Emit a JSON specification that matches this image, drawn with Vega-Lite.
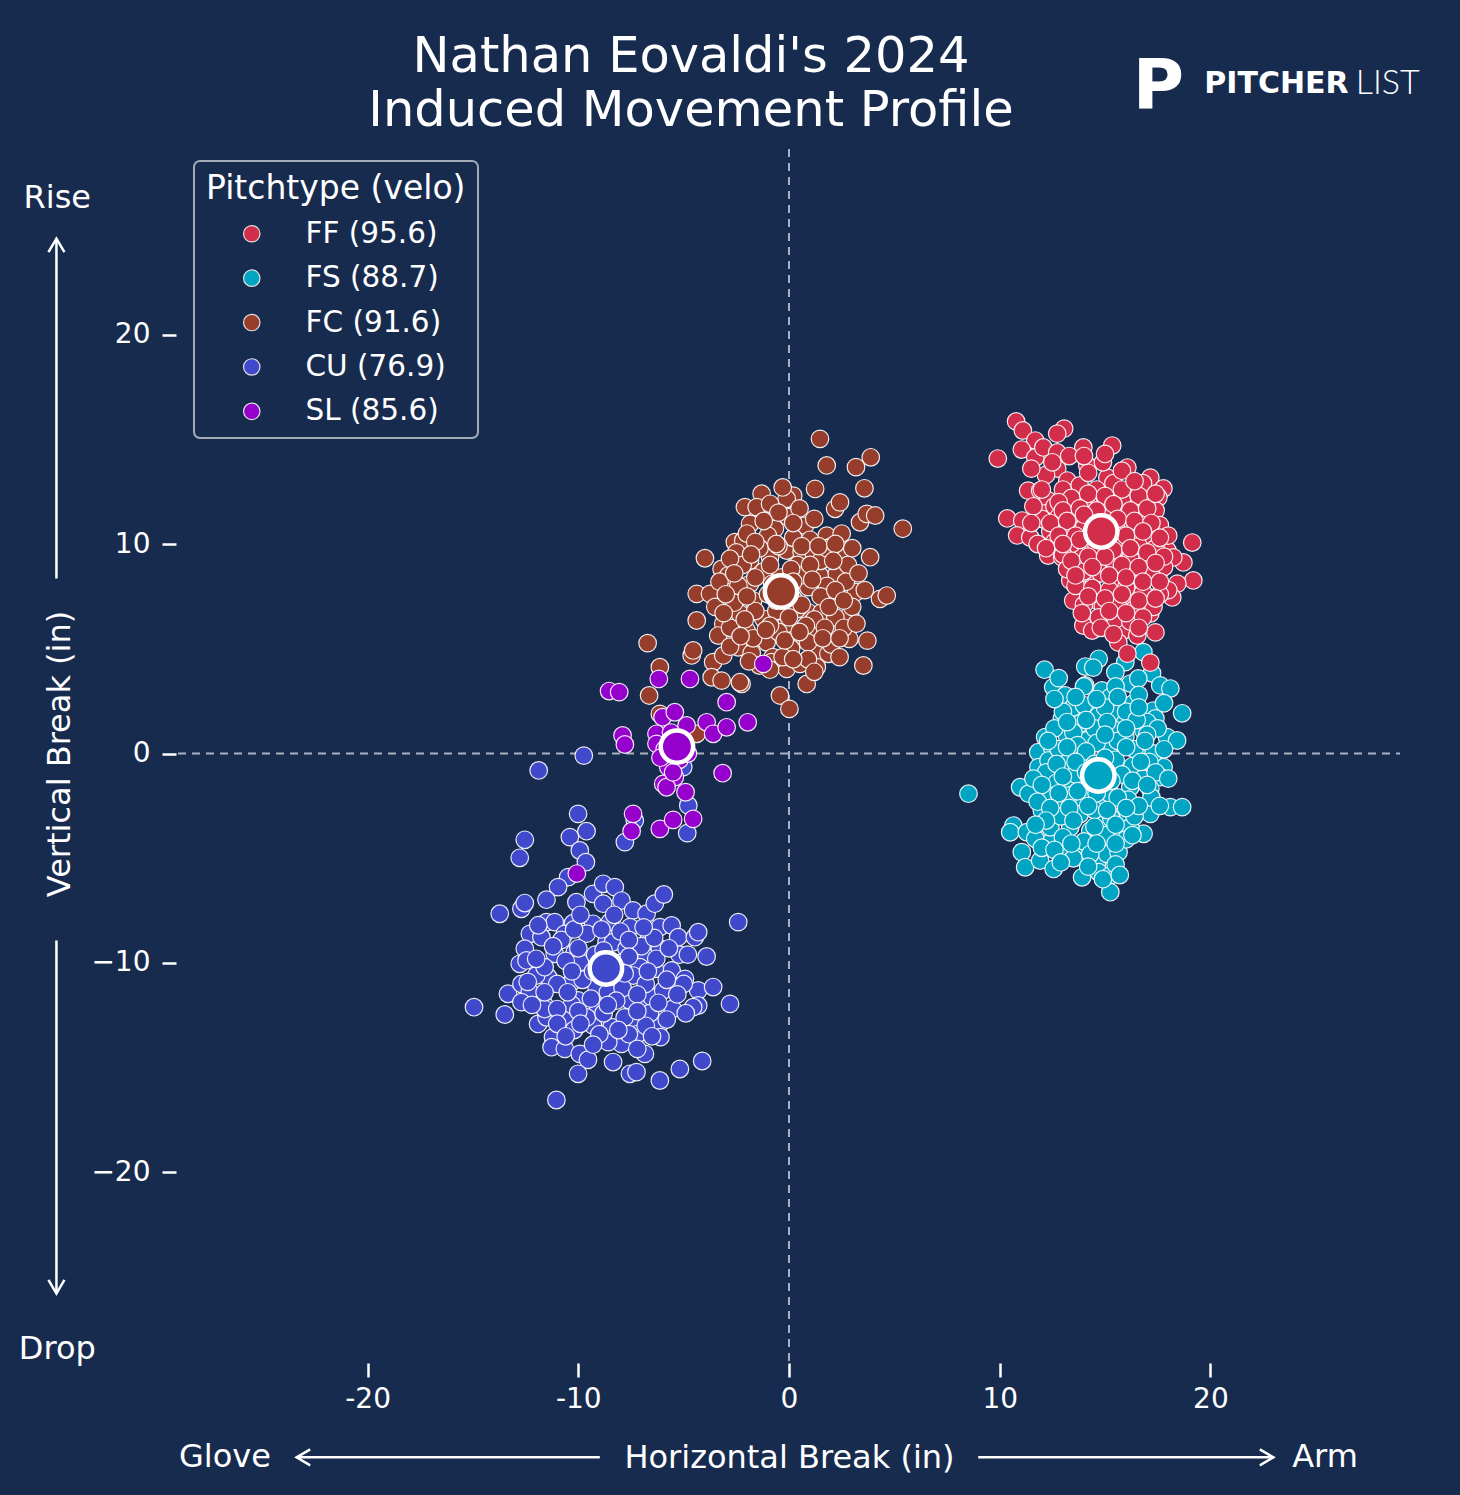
{
"$schema": "https://vega.github.io/schema/vega-lite/v6.json",
"width": 1222,
"height": 1215,
"autosize": {"type": "none"},
"padding": {"left": 178, "top": 146, "right": 60, "bottom": 134},
"background": "#172b4f",
"title": {"text": ["Nathan Eovaldi's 2024", "Induced Movement Profile"], "frame": "group", "fontSize": 49.5, "font": "DejaVu Sans", "fontWeight": "normal", "color": "white", "anchor": "middle", "dx": -98, "offset": -83, "lineHeight": 54},
"config": {"view": {"stroke": null}, "font": "DejaVu Sans", "legend": {"strokeWidth": 2}},
"datasets": {
"pitches": [
{"t":"FC","x":1.47,"y":15.02},{"t":"FC","x":1.79,"y":13.75},{"t":"FC","x":3.18,"y":13.67},{"t":"FC","x":3.88,"y":14.14},{"t":"FC","x":1.24,"y":12.63},{"t":"FC","x":3.58,"y":12.66},{"t":"FC","x":2.19,"y":11.68},{"t":"FC","x":2.42,"y":11.99},{"t":"FC","x":3.37,"y":11.04},{"t":"FC","x":3.69,"y":11.44},{"t":"FC","x":4.09,"y":11.36},{"t":"FC","x":5.40,"y":10.73},{"t":"FC","x":-1.30,"y":12.40},{"t":"FC","x":0.20,"y":12.31},{"t":"FC","x":-0.11,"y":12.16},{"t":"FC","x":-2.09,"y":11.76},{"t":"FC","x":-1.53,"y":11.76},{"t":"FC","x":-0.90,"y":11.92},{"t":"FC","x":-1.85,"y":10.96},{"t":"FC","x":-0.67,"y":10.73},{"t":"FC","x":-0.03,"y":11.28},{"t":"FC","x":0.76,"y":10.88},{"t":"FC","x":1.79,"y":10.40},{"t":"FC","x":1.95,"y":9.85},{"t":"FC","x":2.50,"y":9.53},{"t":"FC","x":3.85,"y":9.37},{"t":"FC","x":-2.57,"y":10.09},{"t":"FC","x":-2.17,"y":10.17},{"t":"FC","x":-3.99,"y":9.32},{"t":"FC","x":-3.20,"y":8.81},{"t":"FC","x":-2.88,"y":8.50},{"t":"FC","x":-1.85,"y":9.21},{"t":"FC","x":-0.90,"y":9.37},{"t":"FC","x":-0.11,"y":9.69},{"t":"FC","x":0.60,"y":9.61},{"t":"FC","x":1.16,"y":9.61},{"t":"FC","x":1.47,"y":8.50},{"t":"FC","x":2.27,"y":8.58},{"t":"FC","x":-4.38,"y":7.62},{"t":"FC","x":-3.75,"y":7.62},{"t":"FC","x":-2.80,"y":7.70},{"t":"FC","x":-1.85,"y":8.10},{"t":"FC","x":-1.70,"y":7.30},{"t":"FC","x":0.92,"y":7.94},{"t":"FC","x":2.34,"y":7.46},{"t":"FC","x":3.18,"y":7.70},{"t":"FC","x":4.32,"y":7.38},{"t":"FC","x":4.64,"y":7.54},{"t":"FC","x":-4.38,"y":6.35},{"t":"FC","x":-3.12,"y":6.19},{"t":"FC","x":-2.33,"y":6.67},{"t":"FC","x":-2.01,"y":5.87},{"t":"FC","x":-1.22,"y":6.43},{"t":"FC","x":-0.11,"y":6.19},{"t":"FC","x":0.92,"y":6.74},{"t":"FC","x":1.55,"y":6.74},{"t":"FC","x":2.27,"y":5.95},{"t":"FC","x":2.90,"y":6.67},{"t":"FC","x":2.86,"y":5.47},{"t":"FC","x":3.72,"y":5.39},{"t":"FC","x":-3.36,"y":5.63},{"t":"FC","x":-2.41,"y":5.07},{"t":"FC","x":-1.77,"y":4.79},{"t":"FC","x":-1.06,"y":5.31},{"t":"FC","x":0.52,"y":5.47},{"t":"FC","x":1.24,"y":5.95},{"t":"FC","x":1.32,"y":4.76},{"t":"FC","x":1.87,"y":4.76},{"t":"FC","x":3.53,"y":4.20},{"t":"FC","x":-4.62,"y":4.68},{"t":"FC","x":-4.55,"y":4.92},{"t":"FC","x":-6.71,"y":5.27},{"t":"FC","x":-6.13,"y":4.12},{"t":"FC","x":-3.60,"y":4.36},{"t":"FC","x":-3.12,"y":4.68},{"t":"FC","x":-3.67,"y":3.64},{"t":"FC","x":-3.20,"y":3.48},{"t":"FC","x":-2.25,"y":3.32},{"t":"FC","x":-6.64,"y":2.77},{"t":"FC","x":-0.77,"y":4.60},{"t":"FC","x":-0.11,"y":4.04},{"t":"FC","x":0.52,"y":4.28},{"t":"FC","x":1.32,"y":4.12},{"t":"FC","x":0.84,"y":3.32},{"t":"FC","x":-0.43,"y":2.77},{"t":"FC","x":0.02,"y":2.13},{"t":"FC","x":-0.82,"y":4.36},{"t":"FC","x":-6.13,"y":1.89},{"t":"FC","x":-4.38,"y":0.94},{"t":"FC","x":-2.33,"y":3.40},
{"t":"FC","x":-2.0,"y":10.5},{"t":"FC","x":-1.0,"y":10.4},{"t":"FC","x":0.2,"y":10.3},{"t":"FC","x":1.0,"y":10.2},{"t":"FC","x":-2.5,"y":9.6},{"t":"FC","x":-1.4,"y":9.8},{"t":"FC","x":-0.5,"y":9.9},{"t":"FC","x":0.4,"y":9.0},{"t":"FC","x":1.5,"y":9.2},{"t":"FC","x":2.8,"y":9.0},{"t":"FC","x":-2.2,"y":9.0},{"t":"FC","x":-1.2,"y":8.7},{"t":"FC","x":-0.4,"y":8.4},{"t":"FC","x":0.6,"y":8.5},{"t":"FC","x":1.8,"y":8.0},{"t":"FC","x":2.7,"y":8.2},{"t":"FC","x":-3.3,"y":8.2},{"t":"FC","x":-2.4,"y":8.0},{"t":"FC","x":-1.0,"y":7.6},{"t":"FC","x":0.2,"y":7.4},{"t":"FC","x":1.5,"y":7.5},{"t":"FC","x":3.0,"y":7.0},{"t":"FC","x":-3.5,"y":7.0},{"t":"FC","x":-2.6,"y":7.2},{"t":"FC","x":-1.6,"y":6.8},{"t":"FC","x":-0.6,"y":6.8},{"t":"FC","x":0.4,"y":6.9},{"t":"FC","x":1.2,"y":6.4},{"t":"FC","x":2.2,"y":6.5},{"t":"FC","x":-2.8,"y":6.0},{"t":"FC","x":-1.7,"y":5.5},{"t":"FC","x":-0.5,"y":5.8},{"t":"FC","x":0.1,"y":5.0},{"t":"FC","x":0.9,"y":5.3},{"t":"FC","x":2.0,"y":5.2},{"t":"FC","x":-2.8,"y":5.1},{"t":"FC","x":-0.3,"y":4.6},{"t":"FC","x":0.9,"y":4.5},{"t":"FC","x":-1.4,"y":4.2},{"t":"FC","x":1.8,"y":9.8},{"t":"FC","x":0.5,"y":11.7},{"t":"FC","x":-0.5,"y":11.5},{"t":"FC","x":2.5,"y":10.5},{"t":"FC","x":3.0,"y":9.8},
{"t":"FC","x":-1.6,"y":10.1},{"t":"FC","x":-0.6,"y":10.0},{"t":"FC","x":0.6,"y":9.9},{"t":"FC","x":1.4,"y":9.9},{"t":"FC","x":2.2,"y":10.0},{"t":"FC","x":-2.8,"y":9.3},{"t":"FC","x":-1.8,"y":9.5},{"t":"FC","x":-0.9,"y":9.0},{"t":"FC","x":0.1,"y":8.8},{"t":"FC","x":1.0,"y":9.0},{"t":"FC","x":2.1,"y":9.2},{"t":"FC","x":3.3,"y":8.6},{"t":"FC","x":-2.6,"y":8.6},{"t":"FC","x":-1.6,"y":8.4},{"t":"FC","x":-0.8,"y":8.1},{"t":"FC","x":0.2,"y":8.2},{"t":"FC","x":1.1,"y":8.3},{"t":"FC","x":2.2,"y":7.8},{"t":"FC","x":3.6,"y":7.8},{"t":"FC","x":-3.0,"y":7.6},{"t":"FC","x":-2.0,"y":7.5},{"t":"FC","x":-0.6,"y":7.3},{"t":"FC","x":0.6,"y":7.1},{"t":"FC","x":1.9,"y":7.0},{"t":"FC","x":2.6,"y":7.3},{"t":"FC","x":-3.1,"y":6.7},{"t":"FC","x":-2.1,"y":6.4},{"t":"FC","x":-0.9,"y":6.1},{"t":"FC","x":0.0,"y":6.5},{"t":"FC","x":0.8,"y":6.1},{"t":"FC","x":1.7,"y":6.0},{"t":"FC","x":2.6,"y":6.0},{"t":"FC","x":-2.3,"y":5.6},{"t":"FC","x":-1.1,"y":5.9},{"t":"FC","x":-0.2,"y":5.4},{"t":"FC","x":0.5,"y":5.8},{"t":"FC","x":1.6,"y":5.5},{"t":"FC","x":2.4,"y":5.5},{"t":"FC","x":3.2,"y":6.2},{"t":"FC","x":-1.9,"y":4.4},{"t":"FC","x":-0.9,"y":4.0},{"t":"FC","x":0.2,"y":4.5},{"t":"FC","x":1.2,"y":3.9},{"t":"FC","x":2.4,"y":4.6},{"t":"FC","x":-1.2,"y":11.1},{"t":"FC","x":0.2,"y":11.0},{"t":"FC","x":1.2,"y":11.2},{"t":"FC","x":-0.3,"y":12.7},
{"t":"CU","x":-11.88,"y":-0.81},{"t":"CU","x":-9.74,"y":-0.10},{"t":"CU","x":-10.01,"y":-2.88},{"t":"CU","x":-10.40,"y":-3.99},{"t":"CU","x":-9.61,"y":-3.71},{"t":"CU","x":-9.93,"y":-4.63},{"t":"CU","x":-9.64,"y":-5.19},{"t":"CU","x":-12.54,"y":-4.12},{"t":"CU","x":-12.78,"y":-4.98},{"t":"CU","x":-7.32,"y":-3.20},{"t":"CU","x":-7.79,"y":-4.23},{"t":"CU","x":-4.78,"y":-2.48},{"t":"CU","x":-4.83,"y":-3.80},{"t":"CU","x":-5.02,"y":-0.65},{"t":"CU","x":-10.48,"y":-5.90},{"t":"CU","x":-10.96,"y":-6.38},{"t":"CU","x":-13.73,"y":-7.65},{"t":"CU","x":-12.70,"y":-7.41},{"t":"CU","x":-12.54,"y":-7.14},{"t":"CU","x":-11.51,"y":-6.98},{"t":"CU","x":-10.09,"y":-7.10},{"t":"CU","x":-9.30,"y":-6.70},{"t":"CU","x":-8.82,"y":-6.22},{"t":"CU","x":-8.27,"y":-6.38},{"t":"CU","x":-7.95,"y":-7.02},{"t":"CU","x":-8.82,"y":-7.17},{"t":"CU","x":-7.40,"y":-7.49},{"t":"CU","x":-6.76,"y":-7.65},{"t":"CU","x":-6.37,"y":-7.17},{"t":"CU","x":-5.94,"y":-6.73},{"t":"CU","x":-2.41,"y":-8.05},{"t":"CU","x":-11.51,"y":-8.05},{"t":"CU","x":-11.12,"y":-8.05},{"t":"CU","x":-10.25,"y":-8.10},{"t":"CU","x":-9.30,"y":-8.13},{"t":"CU","x":-8.50,"y":-8.05},{"t":"CU","x":-7.55,"y":-8.29},{"t":"CU","x":-6.13,"y":-8.29},{"t":"CU","x":-5.57,"y":-8.21},{"t":"CU","x":-5.26,"y":-8.77},{"t":"CU","x":-4.47,"y":-8.77},{"t":"CU","x":-4.31,"y":-8.53},{"t":"CU","x":-12.30,"y":-8.61},{"t":"CU","x":-11.75,"y":-8.77},{"t":"CU","x":-10.64,"y":-8.61},{"t":"CU","x":-12.54,"y":-9.32},{"t":"CU","x":-12.78,"y":-10.04},{"t":"CU","x":-12.46,"y":-9.88},{"t":"CU","x":-11.12,"y":-9.56},{"t":"CU","x":-10.17,"y":-9.49},{"t":"CU","x":-9.93,"y":-9.96},{"t":"CU","x":-8.66,"y":-9.01},{"t":"CU","x":-8.35,"y":-9.01},{"t":"CU","x":-7.71,"y":-9.32},{"t":"CU","x":-6.68,"y":-8.93},{"t":"CU","x":-6.76,"y":-9.72},{"t":"CU","x":-6.13,"y":-9.32},{"t":"CU","x":-3.91,"y":-9.69},{"t":"CU","x":-5.57,"y":-10.36},{"t":"CU","x":-6.37,"y":-10.28},{"t":"CU","x":-7.08,"y":-10.20},{"t":"CU","x":-4.94,"y":-10.76},{"t":"CU","x":-11.43,"y":-10.68},{"t":"CU","x":-10.32,"y":-10.92},{"t":"CU","x":-9.14,"y":-11.15},{"t":"CU","x":-13.34,"y":-11.47},{"t":"CU","x":-12.70,"y":-11.00},{"t":"CU","x":-12.30,"y":-11.39},{"t":"CU","x":-11.59,"y":-12.03},{"t":"CU","x":-12.70,"y":-11.87},{"t":"CU","x":-14.95,"y":-12.11},{"t":"CU","x":-13.49,"y":-12.46},{"t":"CU","x":-10.64,"y":-12.66},{"t":"CU","x":-10.01,"y":-11.79},{"t":"CU","x":-9.06,"y":-12.11},{"t":"CU","x":-7.55,"y":-11.79},{"t":"CU","x":-7.00,"y":-12.11},{"t":"CU","x":-6.52,"y":-11.63},{"t":"CU","x":-5.97,"y":-11.31},{"t":"CU","x":-5.52,"y":-12.19},{"t":"CU","x":-4.31,"y":-11.31},{"t":"CU","x":-3.60,"y":-11.15},{"t":"CU","x":-2.80,"y":-11.95},{"t":"CU","x":-4.31,"y":-12.03},{"t":"CU","x":-4.55,"y":-12.11},{"t":"CU","x":-11.91,"y":-12.91},{"t":"CU","x":-11.51,"y":-12.59},{"t":"CU","x":-9.30,"y":-12.98},{"t":"CU","x":-8.42,"y":-13.06},{"t":"CU","x":-7.47,"y":-12.83},{"t":"CU","x":-6.13,"y":-12.91},{"t":"CU","x":-6.10,"y":-13.54},{"t":"CU","x":-7.16,"y":-13.38},{"t":"CU","x":-7.95,"y":-13.86},{"t":"CU","x":-8.58,"y":-13.78},{"t":"CU","x":-11.20,"y":-13.54},{"t":"CU","x":-11.27,"y":-14.02},{"t":"CU","x":-10.64,"y":-14.10},{"t":"CU","x":-9.93,"y":-14.34},{"t":"CU","x":-9.54,"y":-14.62},{"t":"CU","x":-8.35,"y":-14.73},{"t":"CU","x":-6.84,"y":-14.34},{"t":"CU","x":-10.01,"y":-15.29},{"t":"CU","x":-7.55,"y":-15.29},{"t":"CU","x":-7.24,"y":-15.21},{"t":"CU","x":-6.13,"y":-15.61},{"t":"CU","x":-5.18,"y":-15.06},{"t":"CU","x":-4.12,"y":-14.68},{"t":"CU","x":-11.04,"y":-16.54},
{"t":"CU","x":-10.8,"y":-8.9},{"t":"CU","x":-9.6,"y":-8.6},{"t":"CU","x":-8.0,"y":-8.5},{"t":"CU","x":-7.0,"y":-9.2},{"t":"CU","x":-10.6,"y":-9.9},{"t":"CU","x":-9.2,"y":-9.6},{"t":"CU","x":-8.0,"y":-10.0},{"t":"CU","x":-7.4,"y":-10.6},{"t":"CU","x":-11.0,"y":-11.0},{"t":"CU","x":-9.8,"y":-10.8},{"t":"CU","x":-8.6,"y":-11.4},{"t":"CU","x":-7.9,"y":-11.2},{"t":"CU","x":-6.8,"y":-11.0},{"t":"CU","x":-10.3,"y":-12.0},{"t":"CU","x":-9.6,"y":-12.6},{"t":"CU","x":-8.8,"y":-12.4},{"t":"CU","x":-7.8,"y":-12.6},{"t":"CU","x":-6.6,"y":-12.4},{"t":"CU","x":-10.2,"y":-13.2},{"t":"CU","x":-9.0,"y":-13.4},{"t":"CU","x":-7.6,"y":-13.4},{"t":"CU","x":-6.8,"y":-13.0},{"t":"CU","x":-11.6,"y":-12.2},{"t":"CU","x":-12.0,"y":-10.6},{"t":"CU","x":-5.2,"y":-9.6},{"t":"CU","x":-5.0,"y":-11.0},
{"t":"CU","x":-10.2,"y":-8.4},{"t":"CU","x":-8.9,"y":-8.4},{"t":"CU","x":-7.6,"y":-8.9},{"t":"CU","x":-6.4,"y":-8.8},{"t":"CU","x":-11.2,"y":-9.2},{"t":"CU","x":-10.0,"y":-9.3},{"t":"CU","x":-8.8,"y":-9.4},{"t":"CU","x":-7.6,"y":-9.7},{"t":"CU","x":-6.3,"y":-9.8},{"t":"CU","x":-11.6,"y":-10.2},{"t":"CU","x":-10.3,"y":-10.4},{"t":"CU","x":-9.3,"y":-10.4},{"t":"CU","x":-7.8,"y":-10.5},{"t":"CU","x":-6.7,"y":-10.4},{"t":"CU","x":-5.8,"y":-10.8},{"t":"CU","x":-12.4,"y":-10.9},{"t":"CU","x":-11.6,"y":-11.4},{"t":"CU","x":-10.5,"y":-11.4},{"t":"CU","x":-9.4,"y":-11.7},{"t":"CU","x":-8.2,"y":-11.8},{"t":"CU","x":-7.2,"y":-11.5},{"t":"CU","x":-6.2,"y":-11.9},{"t":"CU","x":-5.3,"y":-11.5},{"t":"CU","x":-12.2,"y":-12.0},{"t":"CU","x":-11.0,"y":-12.2},{"t":"CU","x":-10.0,"y":-12.3},{"t":"CU","x":-8.6,"y":-12.0},{"t":"CU","x":-7.2,"y":-12.3},{"t":"CU","x":-5.8,"y":-12.7},{"t":"CU","x":-4.9,"y":-12.4},{"t":"CU","x":-11.0,"y":-12.9},{"t":"CU","x":-9.9,"y":-12.9},{"t":"CU","x":-8.1,"y":-13.2},{"t":"CU","x":-6.5,"y":-13.5},{"t":"CU","x":-10.6,"y":-13.5},{"t":"CU","x":-9.3,"y":-13.9},{"t":"CU","x":-7.2,"y":-14.1},{"t":"CU","x":-12.0,"y":-9.8},{"t":"CU","x":-11.9,"y":-8.2},{"t":"CU","x":-9.9,"y":-7.7},{"t":"CU","x":-8.3,"y":-7.7},{"t":"CU","x":-6.9,"y":-8.3},{"t":"CU","x":-5.7,"y":-9.3},{"t":"CU","x":-4.8,"y":-9.6},
{"t":"SL","x":-6.18,"y":3.56},{"t":"SL","x":-4.70,"y":3.56},{"t":"SL","x":-8.54,"y":2.98},{"t":"SL","x":-8.06,"y":2.93},{"t":"SL","x":-2.96,"y":2.45},{"t":"SL","x":-1.96,"y":1.49},{"t":"SL","x":-6.00,"y":1.73},{"t":"SL","x":-5.42,"y":1.97},{"t":"SL","x":-3.91,"y":1.49},{"t":"SL","x":-3.60,"y":0.94},{"t":"SL","x":-2.96,"y":1.25},{"t":"SL","x":-6.29,"y":0.94},{"t":"SL","x":-4.86,"y":1.34},{"t":"SL","x":-7.90,"y":0.86},{"t":"SL","x":-7.79,"y":0.43},{"t":"SL","x":-6.29,"y":0.46},{"t":"SL","x":-5.73,"y":-0.65},{"t":"SL","x":-5.42,"y":-1.13},{"t":"SL","x":-5.97,"y":-1.45},{"t":"SL","x":-5.81,"y":-1.61},{"t":"SL","x":-3.15,"y":-0.94},{"t":"SL","x":-4.91,"y":-1.85},{"t":"SL","x":-7.40,"y":-2.88},{"t":"SL","x":-7.47,"y":-3.71},{"t":"SL","x":-6.13,"y":-3.60},{"t":"SL","x":-5.50,"y":-3.17},{"t":"SL","x":-4.55,"y":-3.12},{"t":"SL","x":-1.22,"y":4.28},{"t":"SL","x":-10.07,"y":-5.73},{"t":"SL","x":-5.6,"y":1.0},{"t":"SL","x":-5.0,"y":0.6},{"t":"SL","x":-5.2,"y":-0.3},{"t":"SL","x":-5.9,"y":0.2},{"t":"SL","x":-4.8,"y":0.0},{"t":"SL","x":-5.5,"y":-0.9},{"t":"SL","x":-6.1,"y":-0.2},
{"t":"FS","x":12.13,"y":4.00},{"t":"FS","x":14.70,"y":4.52},{"t":"FS","x":14.06,"y":4.15},{"t":"FS","x":14.44,"y":4.10},{"t":"FS","x":15.96,"y":4.36},{"t":"FS","x":16.82,"y":4.84},{"t":"FS","x":17.23,"y":3.83},{"t":"FS","x":15.49,"y":3.88},{"t":"FS","x":12.54,"y":3.16},{"t":"FS","x":13.11,"y":2.77},{"t":"FS","x":14.06,"y":3.25},{"t":"FS","x":14.85,"y":3.01},{"t":"FS","x":15.25,"y":2.69},{"t":"FS","x":16.20,"y":3.34},{"t":"FS","x":16.58,"y":3.58},{"t":"FS","x":17.62,"y":3.25},{"t":"FS","x":18.10,"y":3.10},{"t":"FS","x":18.66,"y":1.92},{"t":"FS","x":17.29,"y":2.05},{"t":"FS","x":16.34,"y":2.39},{"t":"FS","x":13.49,"y":2.21},{"t":"FS","x":12.95,"y":1.66},{"t":"FS","x":13.82,"y":1.43},{"t":"FS","x":14.68,"y":1.81},{"t":"FS","x":15.49,"y":1.97},{"t":"FS","x":15.96,"y":1.49},{"t":"FS","x":16.82,"y":1.10},{"t":"FS","x":17.39,"y":1.67},{"t":"FS","x":17.94,"y":0.78},{"t":"FS","x":18.42,"y":0.62},{"t":"FS","x":12.16,"y":0.78},{"t":"FS","x":11.83,"y":0.06},{"t":"FS","x":12.48,"y":0.30},{"t":"FS","x":13.19,"y":0.86},{"t":"FS","x":14.14,"y":0.62},{"t":"FS","x":15.25,"y":0.38},{"t":"FS","x":15.96,"y":0.78},{"t":"FS","x":16.75,"y":0.30},{"t":"FS","x":17.78,"y":-0.65},{"t":"FS","x":17.62,"y":-1.13},{"t":"FS","x":11.84,"y":-0.65},{"t":"FS","x":12.32,"y":-0.33},{"t":"FS","x":10.97,"y":-1.61},{"t":"FS","x":11.37,"y":-1.92},{"t":"FS","x":8.52,"y":-1.92},{"t":"FS","x":13.19,"y":-1.61},{"t":"FS","x":13.98,"y":-1.29},{"t":"FS","x":16.20,"y":-1.61},{"t":"FS","x":17.15,"y":-1.69},{"t":"FS","x":18.10,"y":-2.56},{"t":"FS","x":18.66,"y":-2.56},{"t":"FS","x":12.00,"y":-2.72},{"t":"FS","x":12.87,"y":-2.40},{"t":"FS","x":13.82,"y":-2.24},{"t":"FS","x":14.93,"y":-2.48},{"t":"FS","x":15.88,"y":-2.88},{"t":"FS","x":17.15,"y":-2.88},{"t":"FS","x":16.83,"y":-3.83},{"t":"FS","x":10.65,"y":-3.44},{"t":"FS","x":10.50,"y":-3.76},{"t":"FS","x":11.29,"y":-3.76},{"t":"FS","x":11.69,"y":-4.07},{"t":"FS","x":12.48,"y":-4.15},{"t":"FS","x":13.35,"y":-3.52},{"t":"FS","x":14.30,"y":-3.68},{"t":"FS","x":14.77,"y":-3.28},{"t":"FS","x":15.57,"y":-3.84},{"t":"FS","x":16.20,"y":-3.52},{"t":"FS","x":11.05,"y":-4.71},{"t":"FS","x":11.21,"y":-5.43},{"t":"FS","x":11.92,"y":-5.11},{"t":"FS","x":12.56,"y":-5.51},{"t":"FS","x":13.19,"y":-4.79},{"t":"FS","x":13.91,"y":-5.91},{"t":"FS","x":14.62,"y":-5.19},{"t":"FS","x":15.09,"y":-4.79},{"t":"FS","x":15.64,"y":-4.71},{"t":"FS","x":14.70,"y":-5.67},{"t":"FS","x":15.25,"y":-5.82},{"t":"FS","x":15.25,"y":-6.62},{"t":"FS","x":13.67,"y":-4.47},{"t":"FS","x":12.40,"y":-3.52},
{"t":"FS","x":13.0,"y":2.0},{"t":"FS","x":14.0,"y":2.3},{"t":"FS","x":15.0,"y":2.2},{"t":"FS","x":16.0,"y":2.0},{"t":"FS","x":17.0,"y":1.5},{"t":"FS","x":12.6,"y":1.2},{"t":"FS","x":13.5,"y":1.0},{"t":"FS","x":14.5,"y":1.2},{"t":"FS","x":15.5,"y":1.1},{"t":"FS","x":16.5,"y":1.6},{"t":"FS","x":17.5,"y":1.2},{"t":"FS","x":12.8,"y":0.2},{"t":"FS","x":13.7,"y":0.4},{"t":"FS","x":14.6,"y":0.5},{"t":"FS","x":15.6,"y":0.6},{"t":"FS","x":16.4,"y":0.2},{"t":"FS","x":17.3,"y":0.0},{"t":"FS","x":12.2,"y":-0.9},{"t":"FS","x":13.1,"y":-0.5},{"t":"FS","x":14.0,"y":-0.2},{"t":"FS","x":15.5,"y":-0.3},{"t":"FS","x":16.3,"y":-0.6},{"t":"FS","x":17.1,"y":-0.4},{"t":"FS","x":12.7,"y":-1.4},{"t":"FS","x":13.6,"y":-1.0},{"t":"FS","x":15.8,"y":-1.0},{"t":"FS","x":16.8,"y":-1.2},{"t":"FS","x":11.6,"y":-1.2},{"t":"FS","x":12.3,"y":-2.0},{"t":"FS","x":13.3,"y":-2.0},{"t":"FS","x":14.2,"y":-1.8},{"t":"FS","x":15.2,"y":-1.9},{"t":"FS","x":16.1,"y":-2.2},{"t":"FS","x":17.2,"y":-2.1},{"t":"FS","x":12.9,"y":-3.0},{"t":"FS","x":13.8,"y":-2.9},{"t":"FS","x":14.5,"y":-2.7},{"t":"FS","x":15.3,"y":-3.1},{"t":"FS","x":16.4,"y":-3.0},{"t":"FS","x":13.0,"y":-4.0},{"t":"FS","x":14.0,"y":-4.2},{"t":"FS","x":15.0,"y":-3.9},{"t":"FS","x":16.0,"y":-4.1},{"t":"FS","x":13.5,"y":-5.0},{"t":"FS","x":14.3,"y":-4.8},{"t":"FS","x":15.5,"y":-5.3},{"t":"FS","x":12.0,"y":-4.5},{"t":"FS","x":14.0,"y":3.2},{"t":"FS","x":15.5,"y":3.2},{"t":"FS","x":16.6,"y":2.8},{"t":"FS","x":12.8,"y":3.6},
{"t":"FS","x":12.6,"y":2.6},{"t":"FS","x":13.6,"y":2.7},{"t":"FS","x":14.6,"y":2.6},{"t":"FS","x":15.6,"y":2.7},{"t":"FS","x":16.6,"y":2.2},{"t":"FS","x":17.8,"y":2.4},{"t":"FS","x":13.2,"y":1.5},{"t":"FS","x":14.1,"y":1.6},{"t":"FS","x":15.1,"y":1.5},{"t":"FS","x":16.0,"y":1.2},{"t":"FS","x":17.0,"y":0.9},{"t":"FS","x":12.3,"y":0.6},{"t":"FS","x":13.2,"y":0.3},{"t":"FS","x":14.1,"y":0.1},{"t":"FS","x":15.0,"y":0.9},{"t":"FS","x":16.0,"y":0.3},{"t":"FS","x":16.9,"y":0.6},{"t":"FS","x":17.8,"y":0.2},{"t":"FS","x":12.7,"y":-0.5},{"t":"FS","x":13.6,"y":-0.4},{"t":"FS","x":14.5,"y":-0.5},{"t":"FS","x":15.0,"y":-0.2},{"t":"FS","x":16.7,"y":-0.4},{"t":"FS","x":17.4,"y":-0.9},{"t":"FS","x":12.0,"y":-1.5},{"t":"FS","x":13.0,"y":-1.1},{"t":"FS","x":14.1,"y":-0.9},{"t":"FS","x":15.3,"y":-1.3},{"t":"FS","x":16.3,"y":-1.3},{"t":"FS","x":17.0,"y":-1.5},{"t":"FS","x":18.0,"y":-1.2},{"t":"FS","x":11.8,"y":-2.3},{"t":"FS","x":12.8,"y":-1.9},{"t":"FS","x":13.7,"y":-1.8},{"t":"FS","x":14.6,"y":-1.9},{"t":"FS","x":15.6,"y":-2.1},{"t":"FS","x":16.6,"y":-2.5},{"t":"FS","x":17.6,"y":-2.5},{"t":"FS","x":12.4,"y":-2.6},{"t":"FS","x":13.3,"y":-2.6},{"t":"FS","x":14.2,"y":-2.5},{"t":"FS","x":15.1,"y":-2.7},{"t":"FS","x":16.0,"y":-2.6},{"t":"FS","x":12.2,"y":-3.2},{"t":"FS","x":13.5,"y":-3.2},{"t":"FS","x":14.5,"y":-3.5},{"t":"FS","x":15.5,"y":-3.4},{"t":"FS","x":16.3,"y":-3.9},{"t":"FS","x":11.7,"y":-3.4},{"t":"FS","x":12.6,"y":-4.6},{"t":"FS","x":13.4,"y":-4.3},{"t":"FS","x":14.6,"y":-4.3},{"t":"FS","x":15.5,"y":-4.3},{"t":"FS","x":12.9,"y":-5.2},{"t":"FS","x":14.2,"y":-5.4},{"t":"FS","x":14.9,"y":-6.0},{"t":"FS","x":15.7,"y":-5.8},
{"t":"FF","x":10.78,"y":15.85},{"t":"FF","x":11.10,"y":15.42},{"t":"FF","x":13.06,"y":15.51},{"t":"FF","x":12.73,"y":15.27},{"t":"FF","x":11.69,"y":14.94},{"t":"FF","x":15.34,"y":14.70},{"t":"FF","x":9.91,"y":14.08},{"t":"FF","x":11.05,"y":14.51},{"t":"FF","x":11.69,"y":14.13},{"t":"FF","x":13.97,"y":14.61},{"t":"FF","x":12.07,"y":14.61},{"t":"FF","x":12.73,"y":14.37},{"t":"FF","x":14.16,"y":13.75},{"t":"FF","x":15.11,"y":13.17},{"t":"FF","x":16.06,"y":13.65},{"t":"FF","x":17.15,"y":13.17},{"t":"FF","x":17.77,"y":12.65},{"t":"FF","x":17.53,"y":12.22},{"t":"FF","x":11.35,"y":12.55},{"t":"FF","x":11.92,"y":12.55},{"t":"FF","x":12.73,"y":13.60},{"t":"FF","x":13.21,"y":13.03},{"t":"FF","x":14.77,"y":12.22},{"t":"FF","x":15.72,"y":12.55},{"t":"FF","x":16.67,"y":12.70},{"t":"FF","x":12.30,"y":12.08},{"t":"FF","x":10.36,"y":11.22},{"t":"FF","x":11.07,"y":11.12},{"t":"FF","x":10.83,"y":10.41},{"t":"FF","x":11.45,"y":10.31},{"t":"FF","x":12.16,"y":11.46},{"t":"FF","x":13.44,"y":11.12},{"t":"FF","x":16.06,"y":11.69},{"t":"FF","x":17.01,"y":11.46},{"t":"FF","x":19.14,"y":10.07},{"t":"FF","x":18.72,"y":9.12},{"t":"FF","x":19.19,"y":8.26},{"t":"FF","x":12.30,"y":9.45},{"t":"FF","x":12.97,"y":9.36},{"t":"FF","x":13.82,"y":9.79},{"t":"FF","x":15.72,"y":9.59},{"t":"FF","x":16.67,"y":9.45},{"t":"FF","x":17.96,"y":9.69},{"t":"FF","x":18.24,"y":9.36},{"t":"FF","x":17.48,"y":8.40},{"t":"FF","x":18.43,"y":8.11},{"t":"FF","x":18.19,"y":7.45},{"t":"FF","x":13.35,"y":8.26},{"t":"FF","x":13.97,"y":7.78},{"t":"FF","x":14.44,"y":8.40},{"t":"FF","x":15.11,"y":8.88},{"t":"FF","x":15.87,"y":8.74},{"t":"FF","x":16.34,"y":8.16},{"t":"FF","x":13.49,"y":7.30},{"t":"FF","x":14.63,"y":7.30},{"t":"FF","x":16.06,"y":7.40},{"t":"FF","x":17.01,"y":7.30},{"t":"FF","x":17.15,"y":6.68},{"t":"FF","x":13.97,"y":6.11},{"t":"FF","x":14.39,"y":5.87},{"t":"FF","x":15.15,"y":6.25},{"t":"FF","x":15.87,"y":5.87},{"t":"FF","x":16.53,"y":5.63},{"t":"FF","x":17.39,"y":5.78},{"t":"FF","x":15.63,"y":5.30},{"t":"FF","x":16.06,"y":4.77},{"t":"FF","x":17.15,"y":4.34},
{"t":"FF","x":13.0,"y":12.6},{"t":"FF","x":13.8,"y":12.8},{"t":"FF","x":14.6,"y":12.6},{"t":"FF","x":15.4,"y":12.9},{"t":"FF","x":16.2,"y":12.4},{"t":"FF","x":17.0,"y":12.2},{"t":"FF","x":12.6,"y":11.8},{"t":"FF","x":13.4,"y":11.9},{"t":"FF","x":14.2,"y":12.0},{"t":"FF","x":15.0,"y":11.7},{"t":"FF","x":15.8,"y":12.1},{"t":"FF","x":16.6,"y":11.9},{"t":"FF","x":17.4,"y":11.6},{"t":"FF","x":12.0,"y":11.2},{"t":"FF","x":12.8,"y":11.3},{"t":"FF","x":13.6,"y":11.5},{"t":"FF","x":14.4,"y":11.2},{"t":"FF","x":15.2,"y":11.4},{"t":"FF","x":16.0,"y":11.0},{"t":"FF","x":16.8,"y":11.2},{"t":"FF","x":17.6,"y":10.9},{"t":"FF","x":12.4,"y":10.6},{"t":"FF","x":13.2,"y":10.7},{"t":"FF","x":14.0,"y":10.8},{"t":"FF","x":15.6,"y":10.6},{"t":"FF","x":16.4,"y":10.5},{"t":"FF","x":17.2,"y":10.3},{"t":"FF","x":18.0,"y":10.4},{"t":"FF","x":11.8,"y":10.0},{"t":"FF","x":12.6,"y":10.1},{"t":"FF","x":13.4,"y":10.0},{"t":"FF","x":14.2,"y":10.2},{"t":"FF","x":15.0,"y":9.9},{"t":"FF","x":15.8,"y":10.0},{"t":"FF","x":16.6,"y":9.9},{"t":"FF","x":17.4,"y":9.8},{"t":"FF","x":13.0,"y":9.5},{"t":"FF","x":14.6,"y":9.3},{"t":"FF","x":15.4,"y":9.2},{"t":"FF","x":16.2,"y":9.3},{"t":"FF","x":17.0,"y":9.0},{"t":"FF","x":17.8,"y":8.9},{"t":"FF","x":13.2,"y":8.8},{"t":"FF","x":14.0,"y":8.7},{"t":"FF","x":14.8,"y":8.6},{"t":"FF","x":15.6,"y":8.3},{"t":"FF","x":16.4,"y":8.5},{"t":"FF","x":17.2,"y":8.5},{"t":"FF","x":18.0,"y":7.8},{"t":"FF","x":13.6,"y":8.0},{"t":"FF","x":14.4,"y":7.9},{"t":"FF","x":15.2,"y":7.8},{"t":"FF","x":16.0,"y":7.9},{"t":"FF","x":16.8,"y":7.7},{"t":"FF","x":17.6,"y":7.6},{"t":"FF","x":14.0,"y":7.1},{"t":"FF","x":14.9,"y":7.0},{"t":"FF","x":15.6,"y":7.1},{"t":"FF","x":16.4,"y":6.9},{"t":"FF","x":17.3,"y":7.0},{"t":"FF","x":14.7,"y":6.5},{"t":"FF","x":15.5,"y":6.4},{"t":"FF","x":16.2,"y":6.3},{"t":"FF","x":16.8,"y":6.5},{"t":"FF","x":14.9,"y":13.9},{"t":"FF","x":13.3,"y":14.2},{"t":"FF","x":16.8,"y":12.9},{"t":"FF","x":12.2,"y":13.3},{"t":"FF","x":11.5,"y":13.6},{"t":"FF","x":15.8,"y":13.5},{"t":"FF","x":14.2,"y":13.4},
{"t":"FF","x":13.4,"y":12.2},{"t":"FF","x":14.2,"y":12.4},{"t":"FF","x":15.0,"y":12.3},{"t":"FF","x":15.8,"y":12.6},{"t":"FF","x":16.6,"y":12.3},{"t":"FF","x":12.8,"y":12.0},{"t":"FF","x":13.0,"y":11.6},{"t":"FF","x":13.8,"y":11.7},{"t":"FF","x":14.6,"y":11.6},{"t":"FF","x":15.4,"y":11.9},{"t":"FF","x":16.2,"y":11.6},{"t":"FF","x":17.0,"y":11.7},{"t":"FF","x":12.4,"y":11.0},{"t":"FF","x":13.2,"y":11.1},{"t":"FF","x":14.0,"y":11.4},{"t":"FF","x":14.8,"y":11.0},{"t":"FF","x":15.6,"y":11.2},{"t":"FF","x":16.4,"y":11.1},{"t":"FF","x":17.2,"y":11.0},{"t":"FF","x":12.8,"y":10.4},{"t":"FF","x":13.6,"y":10.4},{"t":"FF","x":14.4,"y":10.6},{"t":"FF","x":15.2,"y":10.4},{"t":"FF","x":16.0,"y":10.4},{"t":"FF","x":16.8,"y":10.6},{"t":"FF","x":17.6,"y":10.3},{"t":"FF","x":12.2,"y":9.8},{"t":"FF","x":13.0,"y":10.0},{"t":"FF","x":13.8,"y":10.2},{"t":"FF","x":14.6,"y":9.9},{"t":"FF","x":15.4,"y":9.7},{"t":"FF","x":16.2,"y":9.8},{"t":"FF","x":17.0,"y":9.6},{"t":"FF","x":17.8,"y":9.4},{"t":"FF","x":13.4,"y":9.2},{"t":"FF","x":14.2,"y":9.4},{"t":"FF","x":15.0,"y":9.4},{"t":"FF","x":15.8,"y":9.0},{"t":"FF","x":16.6,"y":8.9},{"t":"FF","x":17.4,"y":9.1},{"t":"FF","x":13.6,"y":8.5},{"t":"FF","x":14.4,"y":8.9},{"t":"FF","x":15.2,"y":8.5},{"t":"FF","x":16.0,"y":8.4},{"t":"FF","x":16.8,"y":8.2},{"t":"FF","x":17.6,"y":8.2},{"t":"FF","x":14.2,"y":7.5},{"t":"FF","x":15.0,"y":7.4},{"t":"FF","x":15.8,"y":7.6},{"t":"FF","x":16.6,"y":7.3},{"t":"FF","x":17.4,"y":7.4},{"t":"FF","x":13.9,"y":6.7},{"t":"FF","x":15.2,"y":6.8},{"t":"FF","x":16.0,"y":6.7},{"t":"FF","x":14.8,"y":6.0},{"t":"FF","x":16.6,"y":6.0},{"t":"FF","x":15.4,"y":5.7},{"t":"FF","x":12.0,"y":12.6},{"t":"FF","x":11.6,"y":11.8},{"t":"FF","x":11.5,"y":11.0},{"t":"FF","x":12.5,"y":13.9},{"t":"FF","x":14.0,"y":14.2},{"t":"FF","x":15.0,"y":14.3},{"t":"FF","x":16.4,"y":13.0},{"t":"FF","x":17.4,"y":12.4}
],
"means": [
{"t":"FF","x":14.82,"y":10.60},{"t":"FS","x":14.68,"y":-1.05},{"t":"FC","x":-0.38,"y":7.73},{"t":"CU","x":-8.69,"y":-10.26},{"t":"SL","x":-5.32,"y":0.33}
],
"cross": [
{"x":0,"x2":0,"y":-29,"y2":29},{"x":-29,"x2":29,"y":0,"y2":0}
],
"arrows": [
{"x":-34.77,"x2":-34.77,"y":24.58,"y2":8.35},{"x":-34.77,"x2":-34.77,"y":-8.93,"y2":-25.78},{"x":-23.37,"x2":-8.98,"y":-33.6,"y2":-33.6},{"x":8.98,"x2":22.99,"y":-33.6,"y2":-33.6}
],
"notes": [
{"label":"Rise","x":-34.73,"y":26.54},{"label":"Drop","x":-34.73,"y":-28.45},{"label":"Glove","x":-26.77,"y":-33.56},{"label":"Arm","x":25.44,"y":-33.56}
]
},
"encoding": {
"x": {"field": "x", "type": "quantitative", "scale": {"domain": [-29, 29], "nice": false, "zero": false},
 "axis": {"title": "Horizontal Break (in)", "values": [-20, -10, 0, 10, 20], "labelExpr": "datum.value < 0 ? '-' + abs(datum.value) : '' + datum.value", "domain": false, "grid": false, "tickColor": "white", "tickSize": 14, "tickWidth": 2.5, "offset": 2, "labelColor": "white", "labelFontSize": 28, "labelFont": "DejaVu Sans", "labelPadding": 8, "titleColor": "white", "titleFontSize": 32, "titleFont": "DejaVu Sans", "titleFontWeight": "normal", "titlePadding": 29}},
"y": {"field": "y", "type": "quantitative", "scale": {"domain": [-29, 29], "nice": false, "zero": false},
 "axis": {"title": "Vertical Break (in)", "values": [-20, -10, 0, 10, 20], "domain": false, "grid": false, "tickColor": "white", "tickSize": 14, "tickWidth": 2.5, "offset": 2, "labelColor": "white", "labelFontSize": 28, "labelFont": "DejaVu Sans", "labelPadding": 12, "titleColor": "white", "titleFontSize": 32, "titleFont": "DejaVu Sans", "titleFontWeight": "normal", "titlePadding": 14}}
},
"layer": [
{"data": {"name": "cross"}, "mark": {"type": "rule", "color": "#a9b1c0", "strokeWidth": 2, "strokeDash": [8, 6]},
 "encoding": {"x2": {"field": "x2"}, "y2": {"field": "y2"}}},
{"data": {"name": "pitches"}, "mark": {"type": "point", "shape": "circle", "filled": true, "size": 310, "opacity": 1, "fillOpacity": 1, "stroke": "white", "strokeWidth": 1.2, "strokeOpacity": 0.9},
 "encoding": {"color": {"field": "t", "type": "nominal",
  "scale": {"domain": ["FF", "FS", "FC", "CU", "SL"], "range": ["#d22d4b", "#00a5c4", "#963d2b", "#4048cc", "#9600cd"]},
  "legend": {"title": "Pitchtype (velo)", "orient": "none", "legendX": 16, "legendY": 15, "fillColor": "#172b4f", "strokeColor": "#a3abb9", "cornerRadius": 6, "padding": 12, "titleFontSize": 33, "titleColor": "white", "titleFont": "DejaVu Sans", "titleFontWeight": "normal", "titlePadding": 13, "titleLimit": 500, "labelFontSize": 29.5, "labelColor": "white", "labelFont": "DejaVu Sans", "labelLimit": 400, "symbolType": "circle", "symbolSize": 270, "symbolStrokeColor": "#e0e0e0", "symbolStrokeWidth": 1.2, "symbolOpacity": 1, "symbolOffset": 31, "labelOffset": 39, "rowPadding": 13.4,
   "labelExpr": "datum.label == 'FF' ? 'FF (95.6)' : datum.label == 'FS' ? 'FS (88.7)' : datum.label == 'FC' ? 'FC (91.6)' : datum.label == 'CU' ? 'CU (76.9)' : 'SL (85.6)'"}}}},
{"data": {"name": "means"}, "mark": {"type": "point", "shape": "circle", "filled": true, "size": 1050, "opacity": 1, "fillOpacity": 1, "stroke": "white", "strokeWidth": 4.5},
 "encoding": {"color": {"field": "t", "type": "nominal", "legend": null}}},
{"data": {"name": "arrows"}, "mark": {"type": "rule", "color": "white", "strokeWidth": 2.5},
 "encoding": {"x2": {"field": "x2"}, "y2": {"field": "y2"}}},
{"data": {"values": [{"x": -34.77, "y": 24.58}]}, "mark": {"type": "point", "shape": "M -1 1.7 L 0 0 L 1 1.7", "filled": false, "size": 256, "stroke": "white", "strokeWidth": 2.5, "opacity": 1, "angle": 0}, "encoding": {}},
{"data": {"values": [{"x": -34.77, "y": -25.78}]}, "mark": {"type": "point", "shape": "M -1 1.7 L 0 0 L 1 1.7", "filled": false, "size": 256, "stroke": "white", "strokeWidth": 2.5, "opacity": 1, "angle": 180}, "encoding": {}},
{"data": {"values": [{"x": -23.37, "y": -33.6}]}, "mark": {"type": "point", "shape": "M -1 1.7 L 0 0 L 1 1.7", "filled": false, "size": 256, "stroke": "white", "strokeWidth": 2.5, "opacity": 1, "angle": 270}, "encoding": {}},
{"data": {"values": [{"x": 22.99, "y": -33.6}]}, "mark": {"type": "point", "shape": "M -1 1.7 L 0 0 L 1 1.7", "filled": false, "size": 256, "stroke": "white", "strokeWidth": 2.5, "opacity": 1, "angle": 90}, "encoding": {}},
{"data": {"name": "notes"}, "mark": {"type": "text", "color": "white", "fontSize": 32, "font": "DejaVu Sans", "align": "center", "baseline": "middle"},
 "encoding": {"text": {"field": "label"}}},
{"data": {"values": [{"label": "P", "x": 17.53, "y": 31.75}]}, "mark": {"type": "text", "color": "white", "fontSize": 70, "font": "DejaVu Sans", "fontWeight": "bold", "align": "center", "baseline": "middle"},
 "encoding": {"text": {"field": "label"}}},
{"data": {"values": [{"label": "PITCHER", "x": 19.71, "y": 31.98}]}, "mark": {"type": "text", "color": "white", "fontSize": 30, "font": "DejaVu Sans", "fontWeight": "bold", "align": "left", "baseline": "middle"},
 "encoding": {"text": {"field": "label"}}},
{"data": {"values": [{"label": "LIST", "x": 26.9, "y": 31.98}]}, "mark": {"type": "text", "color": "white", "fontSize": 34, "font": "Lato", "fontWeight": 300, "align": "left", "baseline": "middle"},
 "encoding": {"text": {"field": "label"}}}
]
}
